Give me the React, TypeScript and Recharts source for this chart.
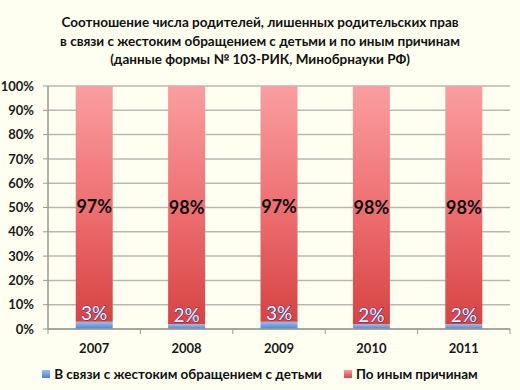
import React from 'react';
import { BarChart, Bar, XAxis, YAxis, CartesianGrid, LabelList } from 'recharts';

const years = ['2007', '2008', '2009', '2010', '2011'];
const crueltyShare = [3, 2, 3, 2, 2];
const otherShare = [97, 98, 97, 98, 98];
const yTicks = [0, 10, 20, 30, 40, 50, 60, 70, 80, 90, 100];
const titleLines = [
  'Соотношение числа родителей, лишенных родительских прав',
  'в связи с жестоким обращением с детьми и по иным причинам',
  '(данные формы № 103-РИК, Минобрнауки РФ)',
];
const seriesNames = ['В связи с жестоким обращением с детьми', 'По иным причинам'];

const data = years.map((y, i) => ({ year: y, cruelty: crueltyShare[i], other: otherShare[i] }));

const W = 520;
const H = 390;
const MARGIN = { top: 86, right: 10, left: 0, bottom: 37 };
const Y_AXIS_W = 48;
const BAND = (W - MARGIN.left - MARGIN.right - Y_AXIS_W) / years.length;
const FONT = 'Lato, "Open Sans", sans-serif';

const XTick = (props: any) => {
  const { x, y, payload, index } = props;
  const axisY = y - 8;
  const half = BAND / 2;
  return (
    <g>
      <line x1={x - half} x2={x - half} y1={axisY} y2={axisY + 5} stroke="#9a9a94" strokeWidth={1} />
      {index === years.length - 1 && (
        <line x1={x + half} x2={x + half} y1={axisY} y2={axisY + 5} stroke="#9a9a94" strokeWidth={1} />
      )}
      <text x={x} y={y + 16} textAnchor="middle" fontFamily={FONT} fontWeight={700} fontSize={13} fill="#1a1a1a">
        {payload.value}
      </text>
    </g>
  );
};

const CrueltyLabel = (props: any) => {
  const { x, y, width, value } = props;
  return (
    <text
      x={x + width / 2}
      y={y - 2}
      textAnchor="middle"
      fontFamily={FONT}
      fontSize={19}
      fill="#eef0fb"
      stroke="#2f3b8f"
      strokeWidth={0.9}
      paintOrder="stroke"
    >
      {value}%
    </text>
  );
};

const OtherLabel = (props: any) => {
  const { x, y, width, height, value } = props;
  return (
    <text
      x={x + width / 2}
      y={y + height / 2 + 9}
      textAnchor="middle"
      fontFamily={FONT}
      fontWeight={700}
      fontSize={18}
      fill="#111"
    >
      {value}%
    </text>
  );
};

export default function App() {
  return (
    <div style={{ position: 'absolute', left: 0, top: 0, width: W, height: H, background: '#FFFFF1', fontFamily: FONT }}>
      <div
        style={{
          position: 'absolute',
          left: 0,
          top: 13,
          width: W,
          textAlign: 'center',
          fontWeight: 700,
          fontSize: 13.5,
          lineHeight: '18.7px',
          color: '#111',
        }}
      >
        {titleLines.map((t) => (
          <div key={t}>{t}</div>
        ))}
      </div>
      <BarChart width={W} height={H} data={data} margin={MARGIN} barCategoryGap="30%">
        <defs>
          <linearGradient id="gRed" x1="0" y1="0" x2="0" y2="1">
            <stop offset="0%" stopColor="#FA9EA1" />
            <stop offset="55%" stopColor="#EC6C6E" />
            <stop offset="100%" stopColor="#D64343" />
          </linearGradient>
          <linearGradient id="gBlue" x1="0" y1="0" x2="0" y2="1">
            <stop offset="0%" stopColor="#9CBDEB" />
            <stop offset="100%" stopColor="#4F84CF" />
          </linearGradient>
        </defs>
        <CartesianGrid vertical={false} stroke="#b8b8b0" strokeWidth={1.5} />
        <XAxis
          dataKey="year"
          tick={<XTick />}
          tickLine={false}
          tickSize={6}
          tickMargin={2}
          height={24}
          axisLine={{ stroke: '#9a9a94', strokeWidth: 1.5 }}
          interval={0}
        />
        <YAxis
          width={Y_AXIS_W}
          domain={[0, 100]}
          ticks={yTicks}
          tickFormatter={(v: number) => `${v}%`}
          tickSize={5}
          tickMargin={9}
          tickLine={{ stroke: '#9a9a94' }}
          axisLine={{ stroke: '#9a9a94', strokeWidth: 1.5 }}
          tick={{ fontFamily: FONT, fontWeight: 700, fontSize: 13, fill: '#1a1a1a' }}
          interval={0}
        />
        <Bar dataKey="cruelty" stackId="a" fill="url(#gBlue)" isAnimationActive={false}>
          <LabelList dataKey="cruelty" content={<CrueltyLabel />} />
        </Bar>
        <Bar dataKey="other" stackId="a" fill="url(#gRed)" isAnimationActive={false}>
          <LabelList dataKey="other" content={<OtherLabel />} />
        </Bar>
      </BarChart>
      <div
        style={{
          position: 'absolute',
          left: 0,
          top: 366,
          width: W,
          display: 'flex',
          justifyContent: 'center',
          alignItems: 'center',
          gap: 22,
          fontWeight: 700,
          fontSize: 13.5,
          color: '#111',
        }}
      >
        <div style={{ display: 'flex', alignItems: 'center' }}>
          <span style={{ display: 'inline-block', width: 8, height: 8, background: 'linear-gradient(#9CBDEB,#4F84CF)', marginRight: 4 }} />
          <span>{seriesNames[0]}</span>
        </div>
        <div style={{ display: 'flex', alignItems: 'center' }}>
          <span style={{ display: 'inline-block', width: 8, height: 8, background: 'linear-gradient(#FA9EA1,#D64343)', marginRight: 4 }} />
          <span>{seriesNames[1]}</span>
        </div>
      </div>
    </div>
  );
}
